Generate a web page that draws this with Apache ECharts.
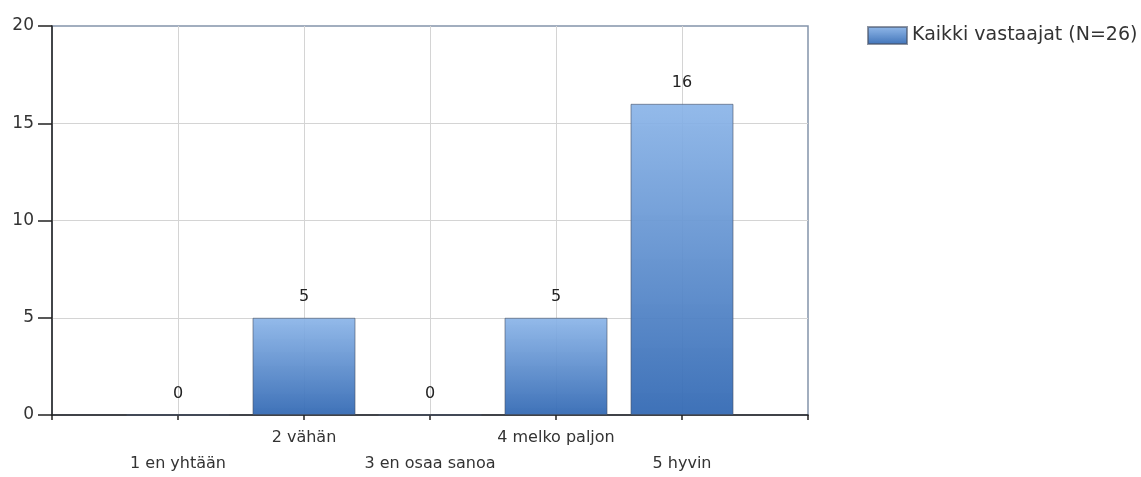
<!DOCTYPE html>
<html>
<head>
<meta charset="utf-8">
<script src="https://cdn.jsdelivr.net/npm/echarts@6/dist/echarts.min.js"></script>
<style>
html,body{margin:0;padding:0;background:#fff;}
#chart{width:1141px;height:477px;}
</style>
</head>
<body>
<div id="chart"></div>
<script>
var categories = ['1 en yhtään', '2 vähän', '3 en osaa sanoa', '4 melko paljon', '5 hyvin'];
var values = [0, 5, 0, 5, 16];
var seriesName = 'Kaikki vastaajat (N=26)';
var yTicks = {min: 0, max: 20, interval: 5};

var chart = echarts.init(document.getElementById('chart'));
var data = categories.map(function (c, i) { return [i + 1, values[i]]; });

var font = 'DejaVu Sans';
chart.setOption({
  animation: false,
  textStyle: {fontFamily: font},
  grid: {left: 52, right: 333, top: 26, bottom: 57, show: true, borderColor: '#8494aa', borderWidth: 1.5},
  legend: {
    left: 862, top: 21, icon: 'rect', itemWidth: 39, itemHeight: 17, itemGap: 6,
    textStyle: {fontSize: 19, color: '#333', fontFamily: font},
    data: [seriesName]
  },
  xAxis: {
    type: 'value', min: 0, max: categories.length + 1, interval: 1,
    axisLine: {show: true, lineStyle: {color: '#222', width: 1.5}},
    axisTick: {show: true, length: 5, lineStyle: {color: '#222', width: 1.5}},
    splitLine: {show: true, showMinLine: false, showMaxLine: false, lineStyle: {color: '#d4d4d4', width: 1}},
    axisLabel: {
      margin: 10, fontSize: 16, color: '#333', lineHeight: 26, fontFamily: font,
      formatter: function (v) {
        var i = Math.round(v) - 1;
        if (i < 0 || i >= categories.length) return '';
        return (i % 2 === 0) ? '\n' + categories[i] : categories[i];
      }
    }
  },
  yAxis: {
    type: 'value', min: yTicks.min, max: yTicks.max, interval: yTicks.interval,
    axisLine: {show: true, lineStyle: {color: '#222', width: 1.5}},
    axisTick: {show: true, length: 14, lineStyle: {color: '#222', width: 1.5}},
    splitLine: {show: true, showMinLine: false, showMaxLine: false, lineStyle: {color: '#d4d4d4', width: 1}},
    axisLabel: {margin: 18, fontSize: 17, color: '#333', fontFamily: font}
  },
  series: [{
    name: seriesName, type: 'bar', barWidth: 103, data: data,
    itemStyle: {
      color: new echarts.graphic.LinearGradient(0, 0, 0, 1, [
        {offset: 0, color: 'rgba(138,180,232,0.92)'},
        {offset: 1, color: 'rgba(52,106,180,0.95)'}
      ]),
      borderColor: 'rgba(70,80,100,0.6)', borderWidth: 1
    },
    label: {show: true, position: 'top', distance: 13, fontSize: 16, color: '#222', fontFamily: font}
  }]
});
</script>
</body>
</html>
